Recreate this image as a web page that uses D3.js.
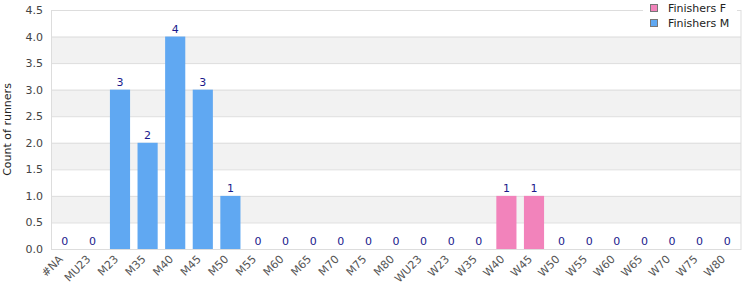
<!DOCTYPE html>
<html>
<head>
<meta charset="utf-8">
<script src="https://cdn.jsdelivr.net/npm/d3@7"></script>
<style>
body { margin: 0; background: #fff; }
text { font-family: "DejaVu Sans", sans-serif; }
</style>
</head>
<body>
<svg id="chart" width="750" height="300"></svg>
<script>
// categories and series
var categories = ["#NA", "MU23", "M23", "M35", "M40", "M45", "M50", "M55", "M60", "M65", "M70", "M75", "M80",
    "WU23", "W23", "W35", "W40", "W45", "W50", "W55", "W60", "W65", "W70", "W75", "W80"];
var finishersF = [0, 0, 0, 0, 0, 0, 0, 0, 0, 0, 0, 0, 0, 0, 0, 0, 1, 1, 0, 0, 0, 0, 0, 0, 0];
var finishersM = [0, 0, 3, 2, 4, 3, 1, 0, 0, 0, 0, 0, 0, 0, 0, 0, 0, 0, 0, 0, 0, 0, 0, 0, 0];
var yTicks = [0, 0.5, 1, 1.5, 2, 2.5, 3, 3.5, 4, 4.5];
var seriesNames = ["Finishers F", "Finishers M"];
var seriesColors = ["#f283bb", "#60a8f2"];

var svg = d3.select("#chart");
var margin = { left: 51, right: 9, top: 10, bottom: 51 };
var w = 750 - margin.left - margin.right,
    h = 300 - margin.top - margin.bottom;

var x = d3.scaleBand().domain(categories).range([0, w]).paddingInner(0.27).paddingOuter(0.135);
var y = d3.scaleLinear().domain([0, 4.5]).range([h, 0]);

var g = svg.append("g").attr("transform", "translate(" + margin.left + "," + margin.top + ")");

// alternating bands
for (var i = 0; i < yTicks.length - 1; i++) {
    if (i % 2 == 1) {
        g.append("rect")
            .attr("x", 0).attr("width", w)
            .attr("y", y(yTicks[i + 1])).attr("height", y(yTicks[i]) - y(yTicks[i + 1]))
            .attr("fill", "#f2f2f2");
    }
}
// gridlines
g.selectAll(".grid").data(yTicks).enter().append("line")
    .attr("x1", 0).attr("x2", w)
    .attr("y1", function (d) { return y(d) + 0.5; })
    .attr("y2", function (d) { return y(d) + 0.5; })
    .attr("stroke", "#dddddd");
g.append("rect").attr("x", 0.5).attr("y", 0.5).attr("width", w - 0.5).attr("height", h)
    .attr("fill", "none").attr("stroke", "#dddddd");

// stacked data
var rows = categories.map(function (c, i) { return { cat: c, F: finishersF[i], M: finishersM[i] }; });
var stack = d3.stack().keys(["F", "M"])(rows);

g.selectAll(".series").data(stack).enter().append("g")
    .attr("fill", function (d, i) { return seriesColors[i]; })
    .selectAll("rect").data(function (d) { return d; }).enter().append("rect")
    .attr("x", function (d) { return x(d.data.cat); })
    .attr("width", x.bandwidth())
    .attr("y", function (d) { return y(d[1]); })
    .attr("height", function (d) { return y(d[0]) - y(d[1]); });

// total labels
g.selectAll(".lbl").data(rows).enter().append("text")
    .attr("x", function (d) { return x(d.cat) + x.bandwidth() / 2; })
    .attr("y", function (d) { return y(d.F + d.M) - 4; })
    .attr("text-anchor", "middle")
    .attr("font-size", 11)
    .attr("fill", "#1a1a8c")
    .text(function (d) { return d.F + d.M; });

// y axis
var yAxis = g.append("g").call(d3.axisLeft(y).tickValues(yTicks).tickFormat(d3.format(".1f")).tickSize(0).tickPadding(8));
yAxis.select(".domain").remove();
yAxis.selectAll("text").attr("font-size", 11).attr("fill", "#444").attr("font-family", "DejaVu Sans");

// x axis
var xAxis = g.append("g").attr("transform", "translate(0," + h + ")")
    .call(d3.axisBottom(x).tickSize(0));
xAxis.select(".domain").remove();
xAxis.selectAll("text")
    .attr("font-size", 11).attr("fill", "#555").attr("font-family", "DejaVu Sans")
    .attr("text-anchor", "end")
    .attr("dy", "0.35em")
    .attr("transform", "translate(-6,6) rotate(-45)");

// y title
svg.append("text")
    .attr("transform", "translate(7," + (margin.top + h / 2) + ") rotate(-90)")
    .attr("text-anchor", "middle")
    .attr("dy", "0.35em")
    .attr("font-size", 11).attr("fill", "#222")
    .text("Count of runners");

// legend
var legend = svg.append("g");
legend.append("rect").attr("x", 643).attr("y", 0).attr("width", 94).attr("height", 32).attr("fill", "#fff");
seriesNames.forEach(function (name, i) {
    legend.append("rect").attr("x", 650.5).attr("y", 4.5 + i * 15).attr("width", 7).attr("height", 7)
        .attr("fill", seriesColors[i]).attr("stroke", "#777");
    legend.append("text").attr("x", 668).attr("y", 8 + i * 15).attr("dy", "0.35em")
        .attr("font-size", 11).attr("fill", "#222").text(name);
});
</script>
</body>
</html>
